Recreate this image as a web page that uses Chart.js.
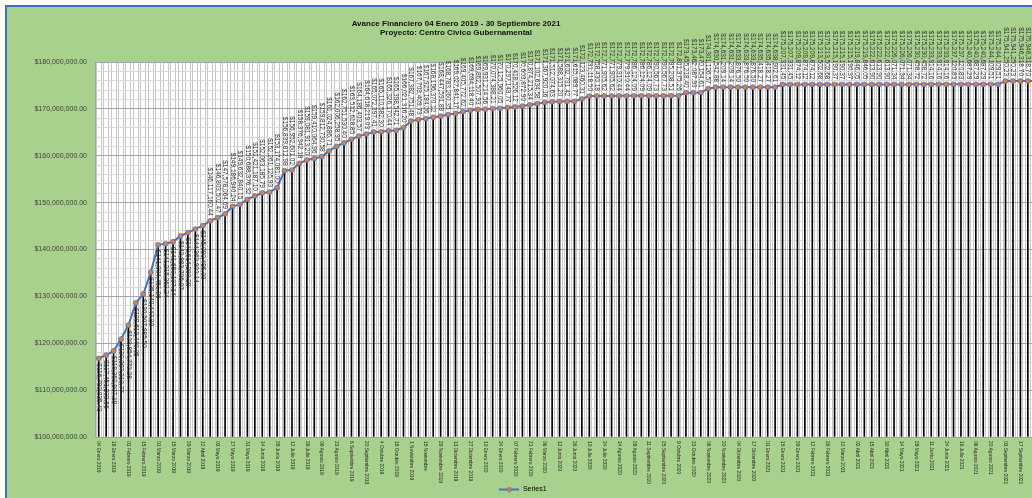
<!DOCTYPE html>
<html>
<head>
<meta charset="utf-8">
<script src="https://cdn.jsdelivr.net/npm/chart.js@4.4.0/dist/chart.umd.min.js"></script>
<style>
  html, body { margin: 0; padding: 0; background: #fff; overflow: hidden; width: 1032px; height: 498px; }
  #frame { position: absolute; left: 5px; top: 5px; width: 1050px; height: 505px; background: #a9d18e;
           border-left: 2px solid #3f6fc4; border-top: 2px solid #3f6fc4; }
  #wrap { position: absolute; left: 0; top: 0; }
  #title { position: absolute; left: 306px; top: 19px; width: 300px; text-align: center;
           font: bold 8px "Liberation Sans", Arial, sans-serif; line-height: 9px; color: #111; }
</style>
</head>
<body>
<div id="frame"><div id="wrap"><canvas id="avanceCanvas" width="1046" height="500"></canvas></div></div>
<div id="title">Avance Financiero 04 Enero 2019 - 30 Septiembre 2021<br>Proyecto: Centro Civico Gubernamental</div>
<script>
// fechas de corte (semanales)
const categories = [
    '04 Enero 2019', '11 Enero 2019', '18 Enero 2019', '25 Enero 2019', '01 Febrero 2019',
    '08 Febrero 2019', '15 Febrero 2019', '22 Febrero 2019', '01 Marzo 2019', '08 Marzo 2019',
    '15 Marzo 2019', '22 Marzo 2019', '29 Marzo 2019', '05 Abril 2019', '12 Abril 2019',
    '26 Abril 2019', '03 Mayo 2019', '10 Mayo 2019', '17 Mayo 2019', '24 Mayo 2019',
    '31 Mayo 2019', '07 Junio 2019', '14 Junio 2019', '21 Junio 2019', '28 Junio 2019',
    '05 Julio 2019', '12 Julio 2019', '19 Julio 2019', '26 Julio 2019', '02 Agosto 2019',
    '09 Agosto 2019', '16 Agosto 2019', '23 Agosto 2019', '30 Agosto 2019', '6 Septiembre 2019',
    '13 Septiembre 2019', '20 Septiembre 2019', '27 Septiembre 2019', '4 Octubre 2019', '11 Octubre 2019',
    '18 Octubre 2019', '25 Octubre 2019', '1 Noviembre 2019', '8 Noviembre 2019', '15 Noviembre',
    '22 Noviembre 2019', '29 Noviembre 2019', '06 Diciembre 2019', '13 Diciembre 2019', '20 Diciembre 2019',
    '27 Diciembre 2019', '03 Enero 2020', '10 Enero 2020', '17 Enero 2020', '24 Enero 2020',
    '31 Enero 2020', '07 Febrero 2020', '14 Febrero 2020', '21 Febrero 2020', '28 Febrero 2020',
    '06 Marzo 2020', '13 Marzo 2020', '12 Junio 2020', '19 Junio 2020', '26 Junio 2020',
    '03 Julio 2020', '10 Julio 2020', '17 Julio 2020', '24 Julio 2020', '07 Agosto 2020',
    '14 Agosto 2020', '21 Agosto 2020', '28 Agosto 2020', '04 Septiembre 2020', '11 Septiembre 2020',
    '18 Septiembre 2020', '25 Septiembre 2020', '02 Octubre 2020', '9 Octubre 2020', '16 Octubre 2020',
    '23 Octubre 2020', '30 Octubre 2020', '06 Noviembre 2020', '13 Noviembre 2020', '20 Noviembre 2020',
    '27 Noviembre 2020', '04 Diciembre 2020', '11 Diciembre 2020', '17 Diciembre 2020', '24 Diciembre 2020',
    '01 Enero 2021', '08 Enero 2021', '15 Enero 2021', '22 Enero 2021', '29 Enero 2021',
    '05 Febrero 2021', '12 Febrero 2021', '19 Febrero 2021', '26 Febrero 2021', '05 Marzo 2021',
    '12 Marzo 2021', '19 Marzo 2021', '02 Abril 2021', '09 Abril 2021', '15 Abril 2021',
    '23 Abril 2021', '30 Abril 2021', '07 Mayo 2021', '14 Mayo 2021', '21 Mayo 2021',
    '28 Mayo 2021', '04 Junio 2021', '11 Junio 2021', '18 Junio 2021', '24 Junio 2021',
    '02 Julio 2021', '16 Julio 2021', '30 Julio 2021', '06 Agosto 2021', '13 Agosto 2021',
    '20 Agosto 2021', '27 Agosto 2021', '03 Septiembre 2021', '10 Septiembre 2021', '17 Septiembre 2021',
    '24 Septiembre 2021', '30 Septiembre 2021'
]

// monto acumulado (Series1)
const avance = [
    116780035.43, 117451203.56, 118362907.19, 120897310.77, 123854772.28,
    128612440.05, 130507985.50, 135140447.30, 141004451.86, 141215362.24,
    141650107.14, 142883706.07, 143614280.28, 144362902.14, 145090496.00,
    146117160.44, 146803502.47, 147578064.69, 149186940.24, 149632840.15,
    150688376.32, 151421187.10, 152063185.79, 152261125.93, 153174081.00,
    156839812.98, 156952601.02, 158376342.18, 159081913.20, 159410064.96,
    159812730.58, 161024886.71, 162006258.95, 162751530.40, 163512618.85,
    164186403.57, 164618219.03, 165072397.41, 165110582.30, 165326170.44,
    165398542.71, 166021316.20, 167382751.48, 167703409.73, 167925184.06,
    168196370.12, 168447591.89, 168783260.35, 169027841.17, 169405772.62,
    169694118.40, 169862507.93, 169931214.56, 170074388.21, 170125960.05,
    170297143.77, 170418526.12, 170603872.90, 170874215.34, 171102634.58,
    171367920.16, 171512074.63, 171588315.20, 171602731.42, 171615089.77,
    172123460.31, 172731118.50, 172758430.18, 172771905.62, 172771905.62,
    172779310.44, 172779310.44, 172786124.09, 172786124.09, 172786124.09,
    172790567.73, 172790567.73, 172795208.51, 172801375.26, 173455218.40,
    173462087.93, 173470154.61, 174301126.57, 174630542.88, 174631209.14,
    174631209.14, 174633876.50, 174633876.50, 174633876.50, 174635418.27,
    174635418.27, 174638902.61, 175207331.45, 175207331.45, 175209874.12,
    175209874.12, 175209874.12, 175213502.68, 175213502.68, 175215190.37,
    175215190.37, 175215190.37, 175219846.05, 175219846.05, 175222613.90,
    175222613.90, 175222613.90, 175226071.34, 175226071.34, 175226071.34,
    175230458.72, 175230458.72, 175233914.16, 175233914.16, 175233914.16,
    175237120.83, 175237120.83, 175240687.29, 175240687.29, 175240687.29,
    175244109.51, 175244109.51, 175941250.23, 175941250.23, 175946318.70,
    175946318.70, 175951884.12
]

const yTicks = { min: 100000000, max: 180000000, minor: 2000000, major: 10000000 }
const labelsBelowUntil = 15

const money = v => '$' + v.toLocaleString('en-US', { minimumFractionDigits: 2, maximumFractionDigits: 2 })

// marca de la leyenda: linea azul con punto naranja
const legendMark = document.createElement('canvas')
legendMark.width = 20
legendMark.height = 6
const lc = legendMark.getContext('2d')
lc.strokeStyle = '#4472c4'
lc.lineWidth = 2
lc.beginPath(); lc.moveTo(0, 3); lc.lineTo(20, 3); lc.stroke()
lc.fillStyle = '#ed7d31'
lc.beginPath(); lc.arc(10, 3, 2.2, 0, Math.PI * 2); lc.fill()
lc.lineWidth = 0.8
lc.stroke()

const plotBg = {
    id: 'plotBg',
    beforeDraw(chart) {
        const { ctx, chartArea: a } = chart
        ctx.save()
        ctx.fillStyle = '#ffffff'
        ctx.fillRect(a.left, a.top, a.width, a.height)
        ctx.restore()
    }
}

// etiquetas de fecha giradas (se leen de arriba hacia abajo)
const fechaLabels = {
    id: 'fechaLabels',
    afterDraw(chart) {
        const { ctx, chartArea: a } = chart
        const x = chart.scales.x
        ctx.save()
        ctx.font = '4.8px "Liberation Sans Narrow", "Liberation Sans", sans-serif'
        ctx.fillStyle = '#262626'
        ctx.textAlign = 'left'
        ctx.textBaseline = 'middle'
        categories.forEach((c, i) => {
            if (i % 2) return
            ctx.save()
            ctx.translate(x.getPixelForValue(i), a.bottom + 4)
            ctx.rotate(Math.PI / 2)
            ctx.fillText(c, 0, 0)
            ctx.restore()
        })
        ctx.restore()
    }
}

// etiquetas de valor sobre/bajo cada punto
const valorLabels = {
    id: 'valorLabels',
    afterDatasetsDraw(chart) {
        const { ctx } = chart
        const meta = chart.getDatasetMeta(0)
        ctx.save()
        ctx.font = '6.5px "Liberation Sans", Arial, sans-serif'
        ctx.fillStyle = '#333333'
        ctx.textBaseline = 'middle'
        meta.data.forEach((pt, i) => {
            const below = i < labelsBelowUntil
            ctx.save()
            ctx.translate(pt.x, pt.y)
            ctx.rotate(Math.PI / 2)
            ctx.textAlign = below ? 'left' : 'right'
            ctx.fillText(money(avance[i]), below ? 5 : -5, 0)
            ctx.restore()
        })
        ctx.restore()
    }
}

const config = {
    type: 'line',
    data: {
        labels: categories,
        datasets: [{
            type: 'line',
            label: 'Series1',
            data: avance,
            xAxisID: 'x',
            yAxisID: 'y',
            borderColor: '#4472c4',
            borderWidth: 2,
            pointRadius: 2.4,
            pointBackgroundColor: '#ed7d31',
            pointBorderColor: '#4472c4',
            pointBorderWidth: 0.8,
            tension: 0,
            order: 0
        }, {
            type: 'bar',
            label: 'lineas',
            data: avance,
            xAxisID: 'x',
            yAxisID: 'y',
            base: yTicks.min,
            backgroundColor: '#000000',
            barThickness: 1,
            order: 1
        }]
    },
    options: {
        responsive: false,
        animation: false,
        layout: { padding: { top: 55, left: 0, right: 14, bottom: 4 } },
        plugins: {
            tooltip: { enabled: false },
            legend: {
                position: 'bottom',
                labels: {
                    usePointStyle: true,
                    pointStyleWidth: 20,
                    padding: 4,
                    color: '#404040',
                    font: { size: 7, family: '"Liberation Sans", Arial, sans-serif' },
                    generateLabels: () => [{
                        text: 'Series1', pointStyle: legendMark, datasetIndex: 0,
                        fillStyle: '#ed7d31', strokeStyle: '#4472c4', lineWidth: 0, hidden: false
                    }]
                }
            }
        },
        scales: {
            x: {
                type: 'category',
                offset: true,
                grid: { display: false },
                border: { display: false },
                ticks: { display: false },
                afterFit: s => { s.height = 45 }
            },
            xg: {
                type: 'linear',
                position: 'bottom',
                min: -0.5,
                max: categories.length - 0.5,
                afterBuildTicks: s => {
                    const t = []
                    for (let k = -1; k < categories.length; k++) {
                        t.push({ value: k + 1 / 3 }, { value: k + 2 / 3 })
                    }
                    s.ticks = t.filter(o => o.value > -0.5 && o.value < categories.length - 0.5)
                },
                grid: { color: '#c6c6c6', drawTicks: false },
                border: { display: false },
                ticks: { display: false },
                afterFit: s => { s.height = 0 }
            },
            y: {
                min: yTicks.min,
                max: yTicks.max,
                ticks: {
                    stepSize: yTicks.minor,
                    autoSkip: false,
                    padding: 8,
                    color: '#404040',
                    font: { size: 7, family: '"Liberation Sans", Arial, sans-serif' },
                    callback: v => v % yTicks.major === 0 ? money(v) : ''
                },
                grid: {
                    drawTicks: false,
                    color: c => (c.tick && c.tick.value % yTicks.major === 0) ? '#a6a6a6' : '#d9d9d9'
                },
                border: { display: true, color: '#a6a6a6' },
                afterFit: s => { s.width = 88 }
            }
        }
    },
    plugins: [plotBg, fechaLabels, valorLabels]
}

new Chart(document.querySelector('#avanceCanvas'), config)
</script>
</body>
</html>
